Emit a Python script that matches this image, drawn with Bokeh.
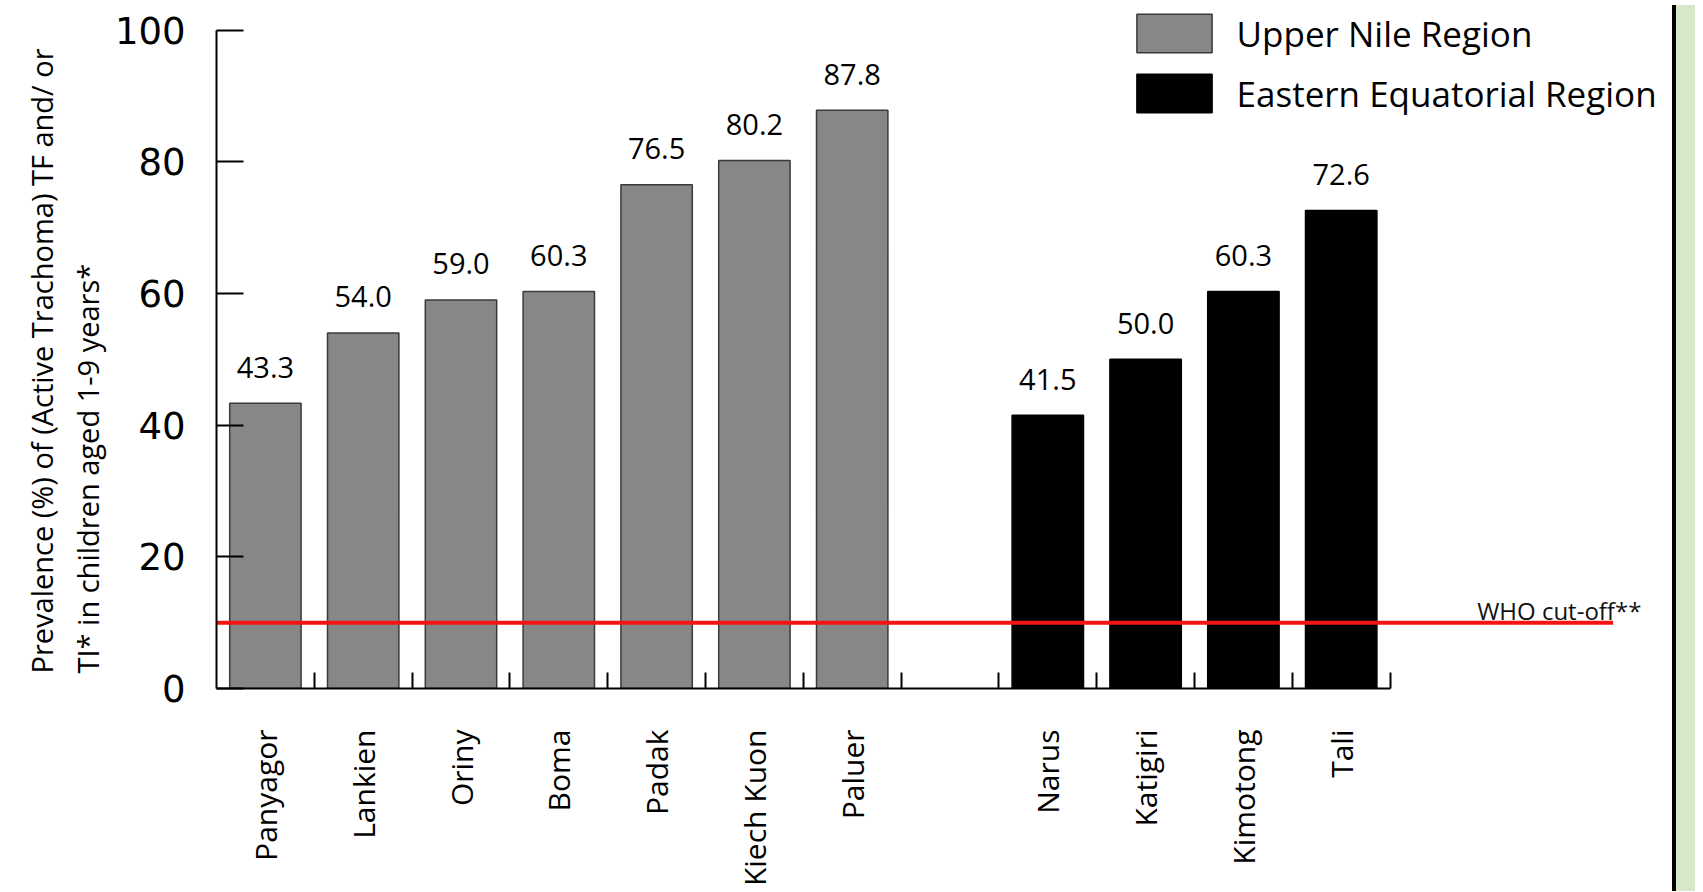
import math
from bokeh.plotting import figure
from bokeh.models import (ColumnDataSource, Range1d, FixedTicker, Legend, LegendItem,
                          Title, Div)
from bokeh.layouts import row
from bokeh.core.properties import value
from bokeh.embed import file_html
from bokeh.resources import INLINE

# ---------------- data ----------------
upper_sites = ["Panyagor", "Lankien", "Oriny", "Boma", "Padak", "Kiech Kuon", "Paluer"]
upper_values = [43.3, 54.0, 59.0, 60.3, 76.5, 80.2, 87.8]
eastern_sites = ["Narus", "Katigiri", "Kimotong", "Tali"]
eastern_values = [41.5, 50.0, 60.3, 72.6]
series_names = ["Upper Nile Region", "Eastern Equatorial Region"]
who_cutoff = 10
who_label = "WHO cut-off**"
y_ticks = [0, 20, 40, 60, 80, 100]
y_title = ["Prevalence (%) of (Active Trachoma) TF and/ or",
           "TI* in children aged 1-9 years*"]

# slot positions (one empty slot between the two regions)
n_upper = len(upper_sites)
upper_x = [i + 0.5 for i in range(n_upper)]
eastern_x = [n_upper + 1 + j + 0.5 for j in range(len(eastern_sites))]
n_slots = n_upper + 1 + len(eastern_sites)

src_upper = ColumnDataSource(dict(x=upper_x, top=upper_values, site=upper_sites,
                                  lab=[f"{v:.1f}" for v in upper_values]))
src_east = ColumnDataSource(dict(x=eastern_x, top=eastern_values, site=eastern_sites,
                                 lab=[f"{v:.1f}" for v in eastern_values]))

FONT = "Open Sans"

p = figure(frame_width=1445, frame_height=688, output_backend="svg",
           toolbar_location=None,
           x_range=Range1d(0, 14.775), y_range=Range1d(0, 104.48),
           min_border_left=216, min_border_right=6, min_border_top=0,
           min_border_bottom=0)
p.outline_line_color = None
p.xgrid.visible = False
p.ygrid.visible = False
p.background_fill_color = "white"
p.border_fill_color = "white"

r_up = p.vbar(x="x", top="top", width=0.73, source=src_upper,
              fill_color="#878787", line_color="#3a3a3a", line_width=1.5)
r_ea = p.vbar(x="x", top="top", width=0.73, source=src_east,
              fill_color="black", line_color="black", line_width=1.5)

for src in (src_upper, src_east):
    p.text(x="x", y="top", text="lab", source=src, text_align="center",
           text_baseline="middle", y_offset=-36, text_color="black",
           text_font=value(FONT), text_font_size="29px")

# WHO cut-off line
who_end = 14.28
p.segment(x0=[0], y0=[who_cutoff], x1=[who_end], y1=[who_cutoff],
          line_color="#f51414", line_width=4)
p.text(x=[12.89], y=[who_cutoff], text=[who_label], text_align="left",
       text_baseline="middle", y_offset=-12, text_color="#111111",
       text_font=value(FONT), text_font_size="24px")

# y axis
ya = p.yaxis[0]
ya.ticker = FixedTicker(ticks=y_ticks)
ya.bounds = (0, 100)
ya.major_tick_in = 27
ya.major_tick_out = 0
ya.minor_tick_line_color = None
ya.major_tick_line_width = 2
ya.axis_line_width = 2
ya.axis_line_color = "black"
ya.major_tick_line_color = "black"
ya.major_label_text_font = "DejaVu Sans"
ya.major_label_text_font_size = "37px"
ya.major_label_text_color = "black"
ya.major_label_standoff = 31

# y-axis title: two left-aligned lines as side titles
title_standoffs = [0, 10]
for txt, s in reversed(list(zip(y_title, title_standoffs))):
    p.add_layout(Title(text=txt, align="left", offset=15, standoff=s,
                       text_font=FONT, text_font_size="29px",
                       text_font_style="normal", text_color="black"), "left")

# x axis
xa = p.xaxis[0]
centers = upper_x + eastern_x
xa.ticker = FixedTicker(ticks=centers, minor_ticks=list(range(1, n_slots + 1)))
xa.bounds = (0, n_slots)
xa.major_tick_line_color = None
xa.minor_tick_line_color = "black"
xa.minor_tick_line_width = 2
xa.minor_tick_in = 16
xa.minor_tick_out = 0
xa.axis_line_width = 2
xa.axis_line_color = "black"
xa.major_label_overrides = {c: s for c, s in zip(centers, upper_sites + eastern_sites)}
xa.major_label_orientation = math.pi / 2
xa.major_label_text_font = FONT
xa.major_label_text_font_size = "30px"
xa.major_label_text_color = "black"
xa.major_label_standoff = 35

legend = Legend(items=[LegendItem(label=series_names[0], renderers=[r_up]),
                       LegendItem(label=series_names[1], renderers=[r_ea])],
                location=(910.6, 570.8), orientation="vertical", padding=0, margin=0,
                spacing=12, glyph_width=94, glyph_height=48, label_height=48,
                label_standoff=16, label_text_font=FONT, label_text_font_size="35px",
                label_text_color="black", border_line_color=None,
                background_fill_alpha=0)
p.add_layout(legend)

strip = Div(text="", width=23, height=886,
            styles={"background-color": "#d6e8ca", "border-left": "4px solid black",
                    "box-sizing": "border-box"})

layout = row(p, strip)
open("out.html", "w").write(file_html(layout, INLINE))
